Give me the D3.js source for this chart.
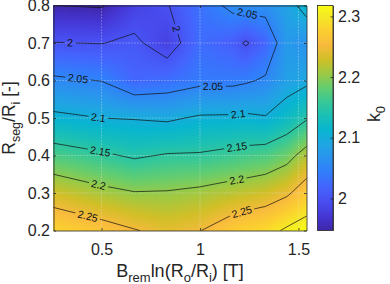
<!DOCTYPE html>
<html>
<head>
<meta charset="utf-8">
<script src="https://cdn.jsdelivr.net/npm/d3@7"></script>
<style>
  body { margin: 0; background: #fff; }
  svg { display: block; font-family: "Liberation Sans", Arial, Helvetica, sans-serif; }
</style>
</head>
<body>
<script>
const w = 390, h = 284;

// sample grid: B_rem ln(Ro/Ri) [T] and Rseg/Ri [-]
const xs = [0.256, 0.5, 0.667, 0.833, 1.0, 1.167, 1.233, 1.333, 1.441, 1.541];
const ys = [0.2, 0.3, 0.4, 0.5, 0.6, 0.7, 0.8];
// k0, one row per ys value (bottom to top), one value per xs column
const k0 = [
  [2.282, 2.266, 2.252, 2.240, 2.249, 2.273, 2.280, 2.286, 2.306, 2.318],
  [2.230, 2.211, 2.202, 2.203, 2.209, 2.219, 2.223, 2.230, 2.244, 2.271],
  [2.170, 2.156, 2.145, 2.153, 2.154, 2.162, 2.165, 2.170, 2.186, 2.217],
  [2.109, 2.100, 2.098, 2.094, 2.105, 2.106, 2.108, 2.103, 2.122, 2.146],
  [2.057, 2.049, 2.020, 2.028, 2.040, 2.040, 2.045, 2.055, 2.082, 2.092],
  [2.001, 1.999, 2.007, 1.981, 2.027, 2.012, 1.996, 2.020, 2.075, 2.066],
  [1.9502, 1.947, 1.980, 1.998, 2.030, 2.060, 2.064, 2.064, 2.085, 2.115]
];
const levels = [1.95, 2, 2.05, 2.1, 2.15, 2.2, 2.25, 2.3];
const xTicks = [0.5, 1, 1.5];
const yTicks = [0.2, 0.3, 0.4, 0.5, 0.6, 0.7, 0.8];
const cTicks = [2, 2.1, 2.2, 2.3];
// rough spots for the inline contour labels [level, x, y], snapped onto the lines
const labelSpots = [
  [2, 0.34, 0.703], [2, 0.862, 0.735],
  [2.05, 0.38, 0.604], [2.05, 1.066, 0.577], [2.05, 1.238, 0.772],
  [2.1, 0.482, 0.497], [2.1, 1.193, 0.513],
  [2.15, 0.492, 0.407], [2.15, 1.188, 0.42],
  [2.2, 0.482, 0.316], [2.2, 1.188, 0.332],
  [2.25, 0.431, 0.241], [2.25, 1.213, 0.249]
];

// parula, every 4th entry of the 64 colour map
const parulaIdx = [0, 4, 8, 12, 16, 20, 24, 28, 32, 36, 40, 44, 48, 52, 56, 60, 63];
const parulaHex = ['#3e26a8', '#4537d5', '#484df0', '#4563fd', '#327cfc', '#2b91ef', '#20a5e3',
  '#08b5d0', '#19bfb6', '#37c897', '#64cd6f', '#9dc943', '#d1bf27', '#f8ba3d', '#fccf30',
  '#f5e924', '#f9fb15'];

const svg = d3.select('body').append('svg').attr('width', w).attr('height', h);
const defs = svg.append('defs');

const x = d3.scaleLinear().domain(d3.extent(xs)).range([53.5, 306.5]);
const y = d3.scaleLinear().domain(d3.extent(ys)).range([230.5, 5.5]);
const kExt = d3.extent(k0.flat());
const color = d3.scaleLinear()
  .domain(parulaIdx.map(i => kExt[0] + (kExt[1] - kExt[0]) * i / 63))
  .range(parulaHex)
  .clamp(true);

// bilinear value between grid nodes
function kAt(xv, yv) {
  const i = Math.max(0, Math.min(xs.length - 2, d3.bisectRight(xs, xv) - 1));
  const j = Math.max(0, Math.min(ys.length - 2, d3.bisectRight(ys, yv) - 1));
  const tx = Math.max(0, Math.min(1, (xv - xs[i]) / (xs[i + 1] - xs[i])));
  const ty = Math.max(0, Math.min(1, (yv - ys[j]) / (ys[j + 1] - ys[j])));
  const a = k0[j][i] * (1 - tx) + k0[j][i + 1] * tx;
  const b = k0[j + 1][i] * (1 - tx) + k0[j + 1][i + 1] * tx;
  return a * (1 - ty) + b * ty;
}

// shaded surface
const x0 = 53, y0 = 5, cw = 254, ch = 226;
const canvas = document.createElement('canvas');
canvas.width = cw; canvas.height = ch;
const ctx = canvas.getContext('2d');
const img = ctx.createImageData(cw, ch);
for (let r = 0; r < ch; r++) {
  for (let c = 0; c < cw; c++) {
    const col = d3.rgb(color(kAt(x.invert(x0 + c + 0.5), y.invert(y0 + r + 0.5))));
    const o = (r * cw + c) * 4;
    img.data[o] = col.r; img.data[o + 1] = col.g; img.data[o + 2] = col.b; img.data[o + 3] = 255;
  }
}
ctx.putImageData(img, 0, 0);
svg.append('image')
  .attr('x', x0).attr('y', y0).attr('width', cw).attr('height', ch)
  .attr('preserveAspectRatio', 'none')
  .attr('href', canvas.toDataURL());

// dotted grid
const grid = svg.append('g')
  .attr('stroke', '#e4e4e4').attr('stroke-width', 0.8)
  .attr('stroke-dasharray', '1,2').attr('opacity', 0.8);
grid.selectAll('.gx').data(xTicks).join('line')
  .attr('x1', d => x(d)).attr('x2', d => x(d)).attr('y1', 5.5).attr('y2', 230.5);
grid.selectAll('.gy').data(yTicks.slice(1, -1)).join('line')
  .attr('y1', d => y(d)).attr('y2', d => y(d)).attr('x1', 53.5).attr('x2', 306.5);

// contour lines (grid-edge parts of the polygons dropped)
const nx = xs.length, ny = ys.length;
const gx = d3.scaleLinear().domain(d3.range(nx)).range(xs);
const gy = d3.scaleLinear().domain(d3.range(ny)).range(ys);
const clampI = (v, n) => Math.max(0, Math.min(n - 1, v - 0.5));
const contours = d3.contours().size([nx, ny]).thresholds(levels)(k0.flat());

const segsByLevel = new Map();
const lineData = [];
contours.forEach(cont => {
  const segs = [];
  let dstr = '';
  cont.coordinates.forEach(poly => poly.forEach(ring => {
    const pts = ring.map(([cx, cy]) => {
      const ix = clampI(cx, nx), iy = clampI(cy, ny);
      return {ix, iy, px: x(gx(ix)), py: y(gy(iy))};
    });
    let pen = false;
    for (let k = 0; k < pts.length - 1; k++) {
      const a = pts[k], b = pts[k + 1];
      const edge = (a.ix === 0 && b.ix === 0) || (a.ix === nx - 1 && b.ix === nx - 1) ||
                   (a.iy === 0 && b.iy === 0) || (a.iy === ny - 1 && b.iy === ny - 1);
      if (edge) { pen = false; continue; }
      if (!pen) { dstr += `M${a.px},${a.py}`; pen = true; }
      dstr += `L${b.px},${b.py}`;
      segs.push([a, b]);
    }
  }));
  segsByLevel.set(cont.value, segs);
  lineData.push(dstr);
});

const mask = defs.append('mask').attr('id', 'gaps')
  .attr('maskUnits', 'userSpaceOnUse')
  .attr('x', 0).attr('y', 0).attr('width', w).attr('height', h);
mask.append('rect').attr('width', w).attr('height', h).attr('fill', '#fff');

svg.append('g').attr('mask', 'url(#gaps)')
  .selectAll('path').data(lineData).join('path')
  .attr('d', d => d)
  .attr('fill', 'none').attr('stroke', '#111').attr('stroke-width', 0.7);

// inline labels
const fmt = d3.format('~g');
const labels = svg.append('g').attr('font-size', 10.5).attr('fill', '#111');
labelSpots.forEach(([lev, lx, ly]) => {
  const segs = segsByLevel.get(lev) || [];
  const sx = x(lx), sy = y(ly);
  let best = null;
  segs.forEach(([a, b]) => {
    const dx = b.px - a.px, dy = b.py - a.py;
    const len2 = dx * dx + dy * dy || 1;
    const t = Math.max(0, Math.min(1, ((sx - a.px) * dx + (sy - a.py) * dy) / len2));
    const qx = a.px + t * dx, qy = a.py + t * dy;
    const d2 = (qx - sx) ** 2 + (qy - sy) ** 2;
    if (!best || d2 < best.d2) best = {d2, qx, qy, ang: Math.atan2(dy, dx) * 180 / Math.PI};
  });
  if (!best) return;
  let ang = best.ang;
  if (ang > 90) ang -= 180;
  if (ang < -90) ang += 180;
  const tr = `translate(${best.qx},${best.qy}) rotate(${ang})`;
  const t = labels.append('text')
    .attr('transform', tr).attr('text-anchor', 'middle').attr('dy', '0.35em')
    .text(fmt(lev));
  const tw = t.node().getComputedTextLength();
  mask.append('rect')
    .attr('x', -tw / 2 - 2.5).attr('y', -4.5).attr('width', tw + 5).attr('height', 9)
    .attr('transform', tr).attr('fill', '#000');
});

// axes
const ink = '#262626';
const styleAxis = g => {
  g.selectAll('path, line').attr('stroke', ink).attr('stroke-width', 0.8);
  g.selectAll('text').attr('fill', ink).attr('font-size', 16);
};
svg.append('g').attr('transform', 'translate(0,230.5)')
  .call(d3.axisBottom(x).tickValues(xTicks).tickFormat(fmt)
    .tickSizeInner(-2.5).tickSizeOuter(0).tickPadding(13.5))
  .call(styleAxis);
svg.append('g').attr('transform', 'translate(0,5.5)')
  .call(d3.axisTop(x).tickValues(xTicks).tickFormat('')
    .tickSizeInner(-2.5).tickSizeOuter(0))
  .call(styleAxis);
svg.append('g').attr('transform', 'translate(53.5,0)')
  .call(d3.axisLeft(y).tickValues(yTicks).tickFormat(d3.format('.1f'))
    .tickSizeInner(-2.5).tickSizeOuter(0).tickPadding(3.5))
  .call(styleAxis);
svg.append('g').attr('transform', 'translate(306.5,0)')
  .call(d3.axisRight(y).tickValues(yTicks).tickFormat('')
    .tickSizeInner(-2.5).tickSizeOuter(0))
  .call(styleAxis);

// axis titles
const xt = svg.append('text')
  .attr('x', 180).attr('y', 277).attr('text-anchor', 'middle')
  .attr('font-size', 18).attr('fill', ink);
xt.append('tspan').text('B');
xt.append('tspan').attr('dy', 5).attr('font-size', 13).text('rem');
xt.append('tspan').attr('dy', -5).text('ln(R');
xt.append('tspan').attr('dy', 5).attr('font-size', 13).text('o');
xt.append('tspan').attr('dy', -5).text('/R');
xt.append('tspan').attr('dy', 5).attr('font-size', 13).text('i');
xt.append('tspan').attr('dy', -5).text(') [T]');

const yt = svg.append('text')
  .attr('transform', 'translate(15,118) rotate(-90)').attr('text-anchor', 'middle')
  .attr('font-size', 17.5).attr('fill', ink);
yt.append('tspan').text('R');
yt.append('tspan').attr('dy', 5).attr('font-size', 12.5).text('seg');
yt.append('tspan').attr('dy', -5).text('/R');
yt.append('tspan').attr('dy', 5).attr('font-size', 12.5).text('i');
yt.append('tspan').attr('dy', -5).text(' [-]');

// colour bar
const cy = d3.scaleLinear().domain(kExt).range([230.5, 5.5]);
const grad = defs.append('linearGradient').attr('id', 'cbar')
  .attr('x1', 0).attr('y1', 1).attr('x2', 0).attr('y2', 0);
parulaIdx.forEach((i, k) => grad.append('stop').attr('offset', i / 63).attr('stop-color', parulaHex[k]));
svg.append('rect')
  .attr('x', 317.5).attr('y', 5.5).attr('width', 15.5).attr('height', 225)
  .attr('fill', 'url(#cbar)').attr('stroke', ink).attr('stroke-width', 0.8);
svg.append('g').attr('transform', 'translate(333,0)')
  .call(d3.axisRight(cy).tickValues(cTicks).tickFormat(fmt)
    .tickSizeInner(-2.5).tickSizeOuter(0).tickPadding(5))
  .call(styleAxis);

const kt = svg.append('text')
  .attr('transform', 'translate(380,114) rotate(-90)').attr('text-anchor', 'middle')
  .attr('font-size', 18).attr('fill', ink);
kt.append('tspan').text('k');
kt.append('tspan').attr('dy', 5).attr('font-size', 13).text('0');
</script>
</body>
</html>
